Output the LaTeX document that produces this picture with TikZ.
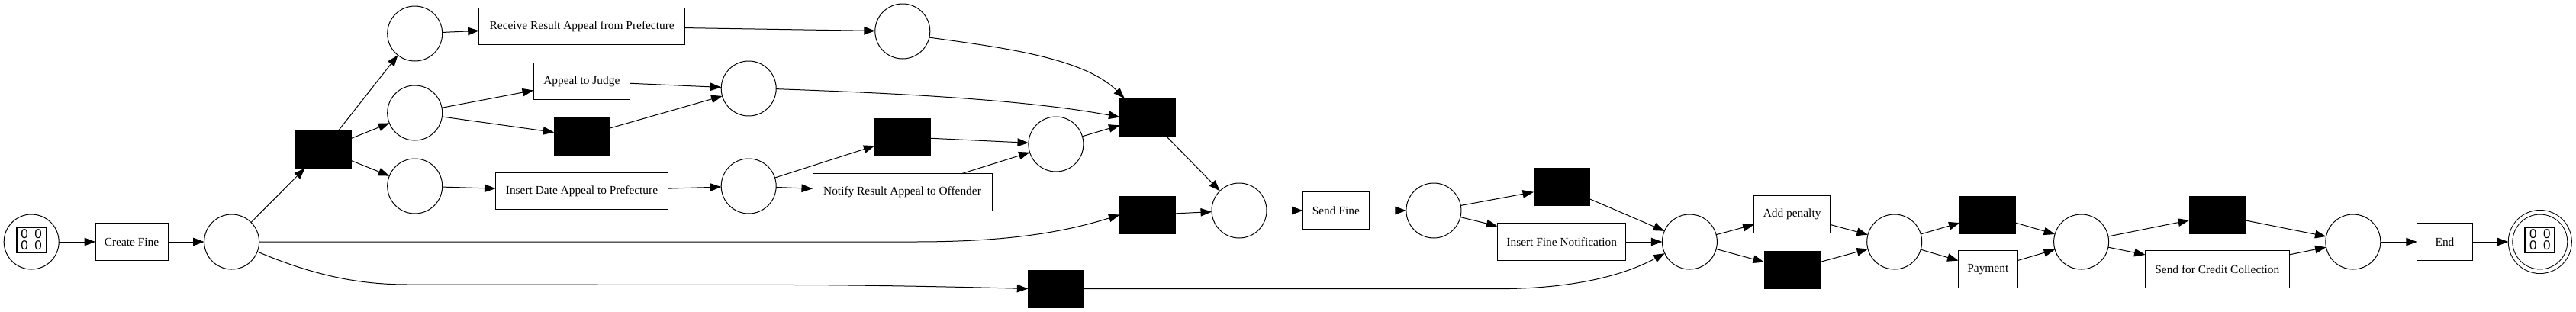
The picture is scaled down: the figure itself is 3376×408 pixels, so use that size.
\documentclass[tikz,border=0pt]{standalone}
\usepackage{fontspec}
\setmainfont{Liberation Serif}
\setsansfont{Liberation Sans}
\usetikzlibrary{arrows.meta}
\tikzset{
  place/.style={draw,circle,fill=white,line width=1pt,inner sep=0pt,outer sep=0pt,minimum size=72pt},
  finalplace/.style={place,minimum size=77.5pt,double,double distance=4.5pt,outer sep=2.75pt},
  activity/.style={draw,rectangle,line width=1pt,inner sep=0pt,outer sep=0pt,minimum height=48.5pt,font=\fontsize{15.4}{18}\selectfont},
  silent/.style={draw,rectangle,fill=black,line width=0pt,inner sep=0pt,outer sep=0pt,minimum width=73pt,minimum height=49pt},
  hexbox/.style={draw,rectangle,line width=2pt,inner sep=0pt,minimum width=39pt,minimum height=33pt,align=center,font=\fontsize{17}{15.3}\selectfont\sffamily}
}
\newcommand{\hexzeros}{0\hspace{8.5pt}0\\0\hspace{8.5pt}0}
\begin{document}
\begin{tikzpicture}[x=1pt,y=-1pt]
      \useasboundingbox (0,0) rectangle (3376,408);
      \draw
        (41.2,317) node[place] (p0){}
        (41.2,314.3) node[hexbox] (p0box){\hexzeros}
        (172.5,317) node[activity,minimum width=95pt] (createfine){Create Fine}
        (303.6,317) node[place] (p1){}
        (424,196) node[silent] (tau1){}
        (543.7,44) node[place] (p2){}
        (543.7,148) node[place] (p3){}
        (543.7,244) node[place] (p4){}
        (762.7,34.5) node[activity,minimum width=270pt] (receiveresult){Receive Result Appeal from Prefecture}
        (762.3,106.5) node[activity,minimum width=126.5pt] (appealjudge){Appeal to Judge}
        (762.7,178.5) node[silent] (tau2){}
        (762.5,250.5) node[activity,minimum width=226pt] (insertdate){Insert Date Appeal to Prefecture}
        (1182.8,41) node[place] (p5){}
        (981.2,116) node[place] (p6){}
        (981.2,244) node[place] (p7){}
        (1182.8,179.5) node[silent] (tau3){}
        (1182.5,252) node[activity,minimum width=235pt] (notifyresult){Notify Result Appeal to Offender}
        (1383.9,189) node[place] (p8){}
        (1504,153.5) node[silent] (tau4){}
        (1504,281.5) node[silent] (tau5){}
        (1383.8,378.5) node[silent] (tau6){}
        (1624,276) node[place] (p9){}
        (1750.8,276) node[activity,minimum width=86.5pt] (sendfine){Send Fine}
        (1878.9,276) node[place] (p10){}
        (2046.5,245) node[silent] (tau7){}
        (2046.7,317) node[activity,minimum width=168.5pt] (insertnotif){Insert Fine Notification}
        (2214.4,317) node[place] (p11){}
        (2348.6,281) node[activity,minimum width=100pt] (addpenalty){Add penalty}
        (2348.5,353.5) node[silent] (tau8){}
        (2482.7,317) node[place] (p12){}
        (2605,281.5) node[silent] (tau9){}
        (2605.3,353) node[activity,minimum width=77.5pt] (payment){Payment}
        (2727.6,317) node[place] (p13){}
        (2905.5,281.5) node[silent] (tau10){}
        (2905.8,353) node[activity,minimum width=188.5pt] (sendcredit){Send for Credit Collection}
        (3083.8,317) node[place] (p14){}
        (3204,317) node[activity,minimum width=72.5pt] (endact){End}
        (3328.8,317) node[finalplace] (p15){}
        (3328.8,314) node[hexbox] (p15box){\hexzeros};
      \coordinate (bend1) at (1197,317);
      \coordinate (bend2) at (535,373);
      \coordinate (bend3) at (1050,373.5);
      \coordinate (bend4) at (1960,378.7);
      \begin{scope}[-{Triangle[length=14.5pt,width=10.5pt]},line width=1pt]
        \draw (p0) to (createfine);
        \draw (createfine) to (p1);
        \draw (p1) to (tau1);
        \draw (tau1) to (p2);
        \draw (tau1) to (p3);
        \draw (tau1) to (p4);
        \draw (p2) to (receiveresult);
        \draw (p3) to (appealjudge);
        \draw (p3) to (tau2);
        \draw (p4) to (insertdate);
        \draw (receiveresult) to (p5);
        \draw (appealjudge) to (p6);
        \draw (tau2) to (p6);
        \draw (insertdate) to (p7);
        \draw (p7) to (tau3);
        \draw (p7) to (notifyresult);
        \draw (tau3) to (p8);
        \draw (notifyresult) to (p8);
        \draw (p8) to (tau4);
        \draw (p5.-13) .. controls (1310,62) and (1420,75) .. (tau4.141);
        \draw (p6.-1) .. controls (1170,122) and (1340,130) .. (tau4.west);
        \draw (tau4) to (p9);
        \draw (p1.east) -- (bend1) .. controls (1300,317) and (1380,309) .. (tau5.west);
        \draw (p1.-21) .. controls (420,365) and (480,373) .. (bend2) -- (bend3) .. controls (1150,374) and (1250,376) .. (tau6.west);
        \draw (tau5) to (p9);
        \draw (p9) to (sendfine);
        \draw (sendfine) to (p10);
        \draw (p10) to (tau7);
        \draw (p10) to (insertnotif);
        \draw (tau7) to (p11);
        \draw (insertnotif) to (p11);
        \draw (tau6.east) -- (bend4) .. controls (2050,378.7) and (2120,365) .. (p11.205);
        \draw (p11) to (addpenalty);
        \draw (p11) to (tau8);
        \draw (addpenalty) to (p12);
        \draw (tau8) to (p12);
        \draw (p12) to (tau9);
        \draw (p12) to (payment);
        \draw (tau9) to (p13);
        \draw (payment) to (p13);
        \draw (p13) to (tau10);
        \draw (p13) to (sendcredit);
        \draw (tau10) to (p14);
        \draw (sendcredit) to (p14);
        \draw (p14) to (endact);
        \draw (endact) to (p15);
      \end{scope}
    \end{tikzpicture}
\end{document}
